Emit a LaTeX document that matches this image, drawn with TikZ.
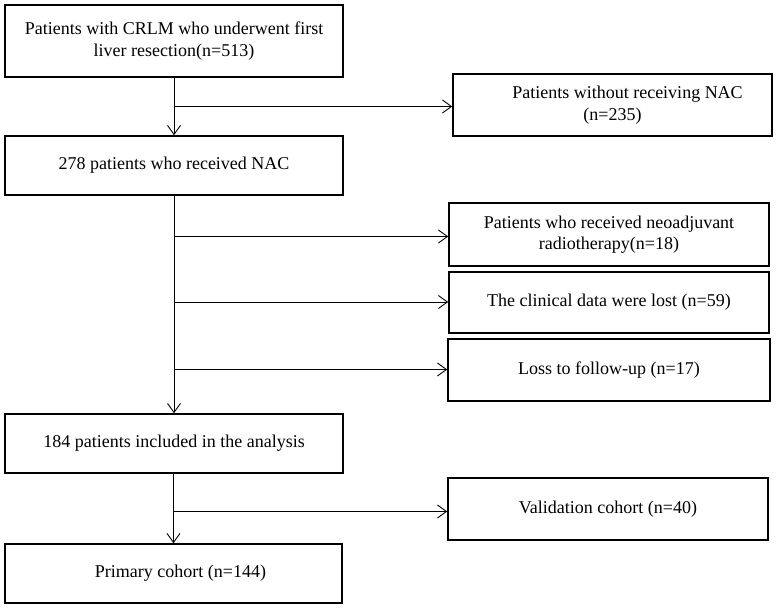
\documentclass[tikz,border=0pt]{standalone}
\usepackage{fontspec}
\setmainfont{Liberation Serif}
\usetikzlibrary{arrows.meta}
\begin{document}
\begin{tikzpicture}[x=1pt,y=-1pt,
  box/.style={draw, line width=1.6pt, inner sep=0pt, align=center,
    font=\fontsize{18}{21.6}\selectfont},
  lbox/.style={box, minimum width=338pt, minimum height=59pt},
  rbox/.style={box, minimum width=320pt, minimum height=62pt},
  arr/.style={-{Straight Barb[length=9pt,width=13pt,line width=0.9pt]}, line width=0.9pt},
  ln/.style={line width=0.9pt}]
\useasboundingbox (0,0) rectangle (778,609);
\node[box, minimum width=338pt, minimum height=72pt] (b1) at (174,41)
  {Patients with CRLM who underwent first\\liver resection(n=513)};
\node[lbox] (b2) at (174,165.5) {278 patients who received NAC};
\node[lbox] (b3) at (174,443.5) {184 patients included in the analysis};
\node[lbox, minimum width=337pt] (b4) at (173.5,573.5) {\hspace*{14pt}Primary cohort (n=144)};
\node[rbox, minimum width=319pt] (r1) at (612.5,105) {\hspace*{30pt}Patients without receiving NAC\\(n=235)};
\node[rbox, minimum height=63pt] (r2) at (609,234.5) {Patients who received neoadjuvant\\radiotherapy(n=18)};
\node[rbox, minimum height=61pt] (r3) at (609,302.5) {The clinical data were lost (n=59)};
\node[rbox, minimum width=322pt] (r4) at (609,370) {Loss to follow-up (n=17)};
\node[rbox] (r5) at (608,509) {Validation cohort (n=40)};
\draw[arr] (b1.south) -- (b2.north);
\draw[arr] (b2.south) -- (b3.north);
\draw[arr] (b3.south -| b4.north) -- (b4.north);
\coordinate (j1) at (174,106.5);
\coordinate (j2) at (174,236.5);
\coordinate (j3) at (174,302);
\coordinate (j4) at (174,369.5);
\coordinate (j5) at (174,511.5);
\draw[arr] (j1) -- (j1 -| r1.west);
\draw[arr] (j2) -- (j2 -| r2.west);
\draw[arr] (j3) -- (j3 -| r3.west);
\draw[arr] (j4) -- (j4 -| r4.west);
\draw[arr] (j5) -- (j5 -| r5.west);
\end{tikzpicture}
\end{document}
